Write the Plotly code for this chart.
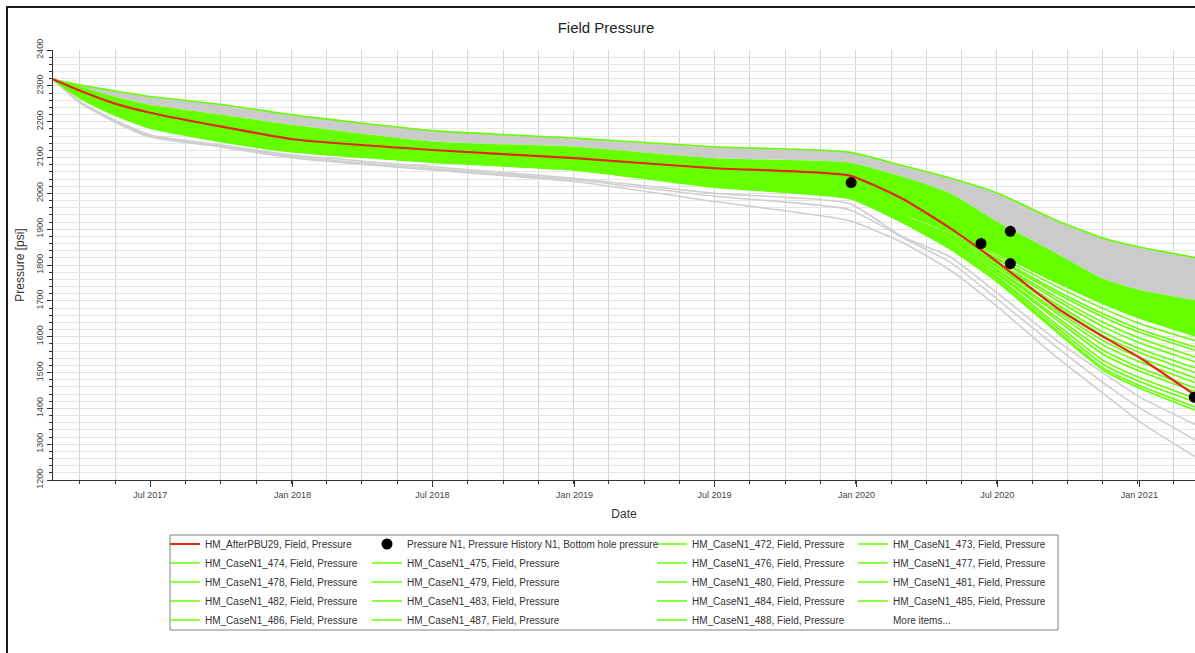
import plotly.graph_objects as go

FONT = "Liberation Sans, Arial, sans-serif"

# ---- data -------------------------------------------------------------
dates = ['2017-02-25', '2017-04-01', '2017-05-15', '2017-07-01', '2017-10-01',
         '2018-01-01', '2018-07-01', '2019-01-01', '2019-07-01', '2019-12-22',
         '2020-03-01', '2020-05-01', '2020-07-01', '2020-09-15', '2020-11-15',
         '2021-01-01', '2021-03-14']

red_afterpbu29 = [2318, 2286, 2251, 2225, 2186, 2151, 2121, 2098, 2070, 2050,
                  1984, 1903, 1809, 1682, 1600, 1542, 1437]

obs_dates = ['2019-12-25', '2020-06-10', '2020-07-18', '2020-07-18', '2021-03-13']
obs_psi = [2030, 1860, 1894, 1804, 1431]

# ensemble envelope (outer top green line) and band limits
case_472 = [2318, 2302, 2286, 2270, 2248, 2219, 2175, 2154, 2130, 2115,
            2077, 2043, 2001, 1925, 1875, 1850, 1821]
band_gray_low = [2318, 2297, 2270, 2247, 2219, 2191, 2145, 2130, 2098, 2086,
                 2046, 2000, 1921, 1833, 1762, 1730, 1702]
band_green_low = [2318, 2265, 2219, 2182, 2144, 2116, 2087, 2065, 2017, 1986,
                  1940, 1890, 1830, 1750, 1690, 1650, 1600]

case_473 = [2318, 2295, 2266, 2242, 2213, 2185, 2140, 2124, 2092, 2080, 2040, 1993, 1913, 1826, 1756, 1724, 1696]
case_474 = [2318, 2279, 2242, 2212, 2179, 2151, 2114, 2095, 2055, 2034, 1938, 1887, 1826, 1741, 1679, 1637, 1589]
case_475 = [2318, 2278, 2240, 2209, 2176, 2148, 2112, 2092, 2051, 2030, 1937, 1884, 1819, 1729, 1664, 1621, 1571]
case_476 = [2318, 2277, 2238, 2206, 2173, 2145, 2109, 2089, 2048, 2026, 1935, 1881, 1815, 1722, 1655, 1612, 1562]
case_477 = [2318, 2276, 2236, 2204, 2170, 2142, 2107, 2087, 2045, 2022, 1934, 1877, 1808, 1711, 1640, 1596, 1543]
case_478 = [2318, 2275, 2234, 2201, 2167, 2139, 2105, 2084, 2042, 2018, 1932, 1875, 1804, 1703, 1628, 1583, 1530]
case_479 = [2318, 2274, 2232, 2199, 2164, 2136, 2103, 2081, 2039, 2014, 1931, 1871, 1798, 1692, 1613, 1567, 1513]
case_480 = [2318, 2273, 2231, 2197, 2161, 2133, 2101, 2079, 2036, 2010, 1929, 1869, 1794, 1685, 1603, 1556, 1500]
case_481 = [2318, 2272, 2229, 2195, 2158, 2130, 2099, 2077, 2033, 2006, 1928, 1865, 1788, 1674, 1589, 1542, 1485]
case_482 = [2318, 2271, 2227, 2193, 2155, 2127, 2097, 2075, 2030, 2002, 1926, 1863, 1784, 1667, 1577, 1530, 1472]
case_483 = [2318, 2270, 2226, 2191, 2153, 2125, 2095, 2073, 2028, 1999, 1925, 1859, 1778, 1656, 1562, 1514, 1457]
case_484 = [2318, 2269, 2224, 2189, 2151, 2123, 2093, 2071, 2025, 1996, 1924, 1857, 1774, 1649, 1551, 1504, 1447]
case_485 = [2318, 2268, 2223, 2187, 2149, 2121, 2091, 2069, 2023, 1993, 1922, 1853, 1767, 1636, 1534, 1486, 1428]
case_486 = [2318, 2267, 2221, 2185, 2147, 2119, 2089, 2068, 2021, 1990, 1921, 1851, 1763, 1628, 1523, 1475, 1418]
case_487 = [2318, 2266, 2220, 2184, 2146, 2118, 2088, 2066, 2019, 1988, 1919, 1848, 1757, 1620, 1513, 1464, 1404]
case_488 = [2318, 2265, 2219, 2182, 2144, 2116, 2087, 2065, 2017, 1986, 1918, 1845, 1753, 1615, 1507, 1457, 1395]

# other (gray) cases below the history-matched band
gray_a = [2318, 2256, 2205, 2163, 2135, 2107, 2074, 2042, 2000, 1972, 1878, 1823, 1722, 1591, 1499, 1432, 1355]
gray_b = [2318, 2254, 2203, 2160, 2132, 2103, 2069, 2038, 1992, 1955, 1876, 1808, 1705, 1572, 1472, 1402, 1312]
gray_c = [2318, 2252, 2200, 2157, 2129, 2099, 2065, 2033, 1977, 1924, 1862, 1786, 1684, 1544, 1442, 1363, 1265]

x_range = ['2017-02-25', '2021-03-14']
y_range = [1200, 2400]

# ---- styling ------------------------------------------------------------
GREEN = '#66ff00'
GRAY = '#cbcbcb'
GRAY_LINE = '#cfcfcf'
RED = '#e2281b'
SPL = dict(shape='spline', smoothing=0.5)

fig = go.Figure()

# filled ensemble bands
fig.add_trace(go.Scatter(x=dates, y=case_472, mode='lines', line=dict(width=0, **SPL),
                         showlegend=False, hoverinfo='skip'))
fig.add_trace(go.Scatter(x=dates, y=band_gray_low, mode='lines', line=dict(width=0, **SPL),
                         fill='tonexty', fillcolor=GRAY, showlegend=False, hoverinfo='skip'))
fig.add_trace(go.Scatter(x=dates, y=band_green_low, mode='lines', line=dict(width=0, **SPL),
                         fill='tonexty', fillcolor=GREEN, showlegend=False, hoverinfo='skip'))

for g in (gray_a, gray_b, gray_c):
    fig.add_trace(go.Scatter(x=dates, y=g, mode='lines', line=dict(color=GRAY_LINE, width=1.6, **SPL),
                             showlegend=False, hoverinfo='skip'))

# legend layout: (legend id, rank) per entry
legend_pos = {
    'HM_AfterPBU29': ('legend', 1), 'obs': ('legend2', 1),
    '472': ('legend3', 1), '473': ('legend4', 1),
    '474': ('legend', 2), '475': ('legend2', 2), '476': ('legend3', 2), '477': ('legend4', 2),
    '478': ('legend', 3), '479': ('legend2', 3), '480': ('legend3', 3), '481': ('legend4', 3),
    '482': ('legend', 4), '483': ('legend2', 4), '484': ('legend3', 4), '485': ('legend4', 4),
    '486': ('legend', 5), '487': ('legend2', 5), '488': ('legend3', 5), 'more': ('legend4', 5),
}

cases = [('472', case_472), ('473', case_473), ('474', case_474), ('475', case_475),
         ('476', case_476), ('477', case_477), ('478', case_478), ('479', case_479),
         ('480', case_480), ('481', case_481), ('482', case_482), ('483', case_483),
         ('484', case_484), ('485', case_485), ('486', case_486), ('487', case_487),
         ('488', case_488)]

for num, vals in cases:
    lg, rk = legend_pos[num]
    fig.add_trace(go.Scatter(x=dates, y=vals, mode='lines',
                             name=f'HM_CaseN1_{num}, Field, Pressure',
                             line=dict(color=GREEN, width=1.6, **SPL),
                             legend=lg, legendrank=rk))

lg, rk = legend_pos['HM_AfterPBU29']
fig.add_trace(go.Scatter(x=dates, y=red_afterpbu29, mode='lines',
                         name='HM_AfterPBU29, Field, Pressure',
                         line=dict(color=RED, width=2.2, **SPL),
                         legend=lg, legendrank=rk))

lg, rk = legend_pos['obs']
fig.add_trace(go.Scatter(x=obs_dates, y=obs_psi, mode='markers',
                         name='Pressure N1, Pressure History N1, Bottom hole pressure',
                         marker=dict(color='black', size=11),
                         legend=lg, legendrank=rk))

lg, rk = legend_pos['more']
fig.add_trace(go.Scatter(x=[None], y=[None], mode='lines', name='More items...',
                         line=dict(color='rgba(0,0,0,0)', width=0),
                         legend=lg, legendrank=rk))

# ---- layout --------------------------------------------------------------
L, R, T, B = 53, 0, 50, 173
W, H = 1195, 653
PW, PH = W - L - R, H - T - B


def px_x(px):
    return (px - L) / PW


def px_y(py):
    return (H - B - py) / PH


leg_common = dict(orientation='v', xanchor='left', yanchor='top', y=px_y(529.5),
                  bgcolor='rgba(0,0,0,0)', borderwidth=0, traceorder='normal',
                  font=dict(size=10, color='#333333', family=FONT))

DAY_MS = 86400000

fig.update_layout(
    width=W, height=H,
    margin=dict(l=L, r=R, t=T, b=B, autoexpand=False),
    paper_bgcolor='white', plot_bgcolor='white',
    font=dict(family=FONT, color='#333333'),
    title=dict(text='Field Pressure', x=606 / W, xanchor='center', xref='container',
               y=1 - 28 / H, yanchor='middle', yref='container',
               font=dict(size=15, color='#222222', family=FONT)),
    legend=dict(x=px_x(165), **leg_common),
    legend2=dict(x=px_x(367), **leg_common),
    legend3=dict(x=px_x(652), **leg_common),
    legend4=dict(x=px_x(853), **leg_common),
    xaxis=dict(
        type='date', range=x_range,
        dtick='M6', tick0='2017-07-01', tickformat='%b %Y',
        ticks='outside', ticklen=6, tickcolor='#333333',
        tickfont=dict(size=9, color='#444444'),
        showline=True, linecolor='#333333', linewidth=1,
        showgrid=False, zeroline=False,
        minor=dict(dtick=45.65 * DAY_MS, tick0='2017-07-01', ticks='outside', ticklen=3,
                   tickcolor='#333333', showgrid=True, gridcolor='#d6d6d6', gridwidth=1),
        title=dict(text='Date', font=dict(size=12, color='#333333'), standoff=10),
    ),
    yaxis=dict(
        range=y_range, dtick=100, tick0=1200,
        ticks='outside', ticklen=5, tickcolor='#333333',
        tickangle=-90, tickfont=dict(size=9, color='#444444'),
        showline=True, linecolor='#333333', linewidth=1,
        showgrid=True, gridcolor='#e0e0e0', gridwidth=1,
        zeroline=False,
        minor=dict(dtick=20, ticks='outside', ticklen=3, tickcolor='#333333',
                   showgrid=True, gridcolor='#e6e6e6', gridwidth=1),
        title=dict(text='Pressure [psi]', font=dict(size=12, color='#333333'), standoff=8),
    ),
    shapes=[
        # outer frame of the exported chart window
        dict(type='rect', xref='paper', yref='paper',
             x0=px_x(7), x1=px_x(1300), y0=px_y(7), y1=px_y(800),
             line=dict(color='#1a1a1a', width=2), fillcolor='rgba(0,0,0,0)', layer='above'),
        # legend box
        dict(type='rect', xref='paper', yref='paper',
             x0=px_x(170), x1=px_x(1058), y0=px_y(535), y1=px_y(630),
             line=dict(color='#808080', width=1), fillcolor='rgba(0,0,0,0)', layer='above'),
    ],
)

fig.write_html('out.html', config={'displayModeBar': False},
               post_script="document.body.style.margin='0px';")
